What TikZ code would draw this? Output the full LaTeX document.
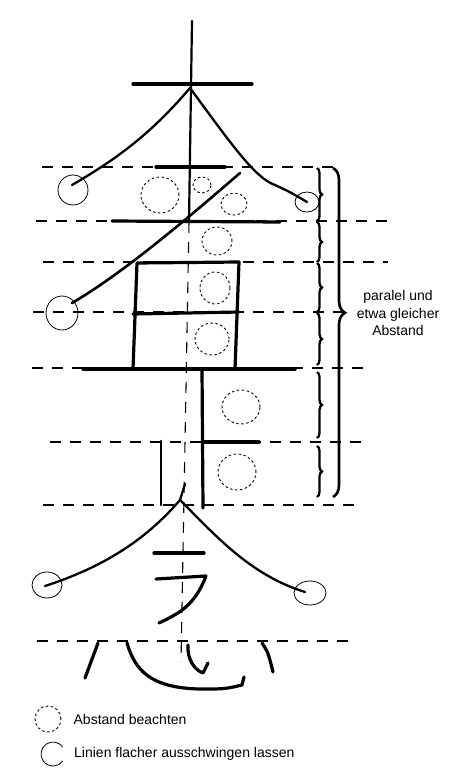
\documentclass[tikz,border=0pt]{standalone}
\usepackage{fontspec}
\setmainfont{Liberation Sans}
\usetikzlibrary{positioning, decorations.pathreplacing}

\begin{document}
\begin{tikzpicture}[x=1pt, y=-1pt,
        stroke/.style={line width=3.2pt, line cap=round, line join=round},
        sweep/.style={line width=2.3pt, line cap=round},
        guide/.style={line width=1.1pt, dash pattern=on 11pt off 9pt},
        gapring/.style={line width=0.9pt, dash pattern=on 2.5pt off 2.5pt},
        endring/.style={line width=0.8pt},
        bandbrace/.style={line width=2.3pt, decorate, decoration={brace, amplitude=5pt}},
        note/.style={font=\fontsize{14}{17.5}\selectfont, inner sep=0pt}]
    \useasboundingbox (0,0) rectangle (449,773);

    % guide lines
    \foreach \y/\a/\b in {167/42/333, 221/36/388, 262/43/388, 312/33/345,
                          368/32/372, 442/50/362, 505/43/363, 641/37/348}
        \draw[guide] (\a,\y) -- (\b,\y);
    \draw[guide] (189,222) -- (181,662);

    \coordinate (apexTop) at (190,88);
    \coordinate (apexLow) at (180,500);

    % upper part
    \draw[line width=2.2pt, line cap=round] (192,21) -- (189,221);
    \draw[stroke] (133,84) -- (252,84);
    \draw[sweep] (apexTop) .. controls (150,135) and (115,160) .. (72,185);
    \draw[sweep] (apexTop) .. controls (232,145) and (255,178) .. (275,185)
                           .. controls (290,192) .. (307,202);
    \draw[stroke] (156,167) -- (225,167);
    \draw[sweep, line width=2.6pt] (240,173) .. controls (180,225) and (120,275) .. (72,303);
    \draw[stroke] (112,221) -- (280,222);

    % box
    \draw[stroke] (133,369) -- (137,263) -- (239,262) -- (235,369);
    \draw[stroke] (133,314) -- (239,312);
    \draw[stroke, line width=3.5pt] (83,369) -- (295,369);
    \draw[stroke] (202,369) -- (203,508);
    \draw[stroke] (203,442) -- (259,442);
    \draw[stroke, line width=2.6pt] (161,441) -- (161,505);

    % lower part
    \draw[sweep] (185,484) -- (apexLow);
    \draw[sweep] (apexLow) .. controls (150,535) and (110,565) .. (45,586);
    \draw[sweep] (apexLow) .. controls (215,535) and (250,575) .. (305,592);
    \draw[stroke] (154,553) -- (204,553);
    \draw[stroke] (156,579) -- (206,576) .. controls (195,605) and (180,613) .. (159,623);
    \draw[stroke] (98,643) -- (85,678);
    \draw[stroke] (127,643) .. controls (135,670) and (150,688) .. (200,689)
                            .. controls (225,689) .. (242,685) -- (244,677);
    \draw[stroke] (188,645) .. controls (187,660) and (195,670) .. (203,673) -- (208,663);
    \draw[stroke] (262,643) .. controls (268,652) .. (273,672);

    % end rings
    \draw[endring] (73,190) ellipse (15pt and 15pt);
    \draw[endring] (307,202) ellipse (12pt and 10pt);
    \draw[endring] (62,313) ellipse (16pt and 17pt);
    \draw[endring] (47,585) ellipse (15pt and 13pt);
    \draw[endring] (310,593) ellipse (16pt and 12pt);

    % spacing rings
    \draw[gapring] (160,195) ellipse (19pt and 18pt);
    \draw[gapring] (202,185) ellipse (9pt and 8pt);
    \draw[gapring] (234,204) ellipse (13pt and 11pt);
    \draw[gapring] (217,241) ellipse (15pt and 14pt);
    \draw[gapring] (215,288) ellipse (15pt and 16pt);
    \draw[gapring] (212,339) ellipse (17pt and 16pt);
    \draw[gapring] (241,407) ellipse (19pt and 17pt);
    \draw[gapring] (237,472) ellipse (19pt and 18pt);

    % braces
    \foreach \t/\b in {168/221, 222/262, 263/312, 313/365, 372/438, 446/497}
        \draw[bandbrace] (317,\t) -- (317,\b);
    \draw[line width=2.6pt, decorate, decoration={brace, amplitude=12pt, aspect=0.44}]
        (333,168) -- (333,497);
    \node[note, align=center] (spacingNote) at (398,313) {paralel und\\etwa gleicher\\Abstand};

    % key
    \node[gapring, draw, circle, minimum size=26pt, inner sep=0pt] (keyGap) at (48,719) {};
    \node[note, right=12pt of keyGap] (keyGapText) {Abstand beachten};
    \coordinate (keySwing) at (53,754);
    \draw[endring] (keySwing) ++(35:12pt) arc[start angle=35, end angle=325, radius=12pt];
    \node[note, right=21pt of keySwing] (keySwingText) {Linien flacher ausschwingen lassen};
\end{tikzpicture}
\end{document}
